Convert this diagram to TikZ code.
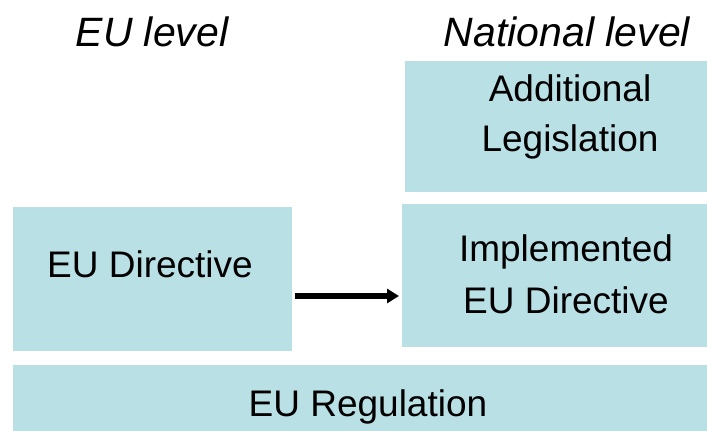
\documentclass[tikz,border=0pt]{standalone}
\usepackage{fontspec}
\setmainfont{Liberation Sans}
\usetikzlibrary{arrows.meta}
\definecolor{boxfill}{RGB}{185,224,228}
\tikzset{
  box/.style={fill=boxfill, draw=none, inner sep=0pt, anchor=north west},
  lbl/.style={font=\fontsize{37}{50}\selectfont, align=center, inner sep=0pt, anchor=base},
  ttl/.style={font=\fontsize{41}{46}\selectfont\itshape, inner sep=0pt, anchor=base},
  conn/.style={line width=6pt, -{Triangle[length=12pt,width=14pt]}}
}
\begin{document}
\begin{tikzpicture}[x=1pt,y=-1pt]
\useasboundingbox (0,0) rectangle (707,431);
\node[box, minimum width=302, minimum height=131] (addl) at (405,61) {};
\node[box, minimum width=279, minimum height=144] (edir) at (13,207) {};
\node[box, minimum width=305, minimum height=143] (impl) at (402,204) {};
\node[box, minimum width=694, minimum height=66] (ereg) at (13,365) {};
\node[ttl] (t1) at (152,46) {EU level};
\node[ttl] (t2) at (567,46) {National level};
\node[lbl] (l1) at (570,101) {Additional};
\node[lbl] (l2) at (570,151) {Legislation};
\node[lbl] (l3) at (150,277) {EU Directive};
\node[lbl] (l4) at (566,261) {Implemented};
\node[lbl] (l5) at (566,313) {EU Directive};
\node[lbl] (l6) at (368,416) {EU Regulation};
\coordinate (ay) at (0,296);
\draw[conn, shorten <=3pt, shorten >=3pt] (edir.east |- ay) -- (impl.west |- ay);
\end{tikzpicture}
\end{document}
